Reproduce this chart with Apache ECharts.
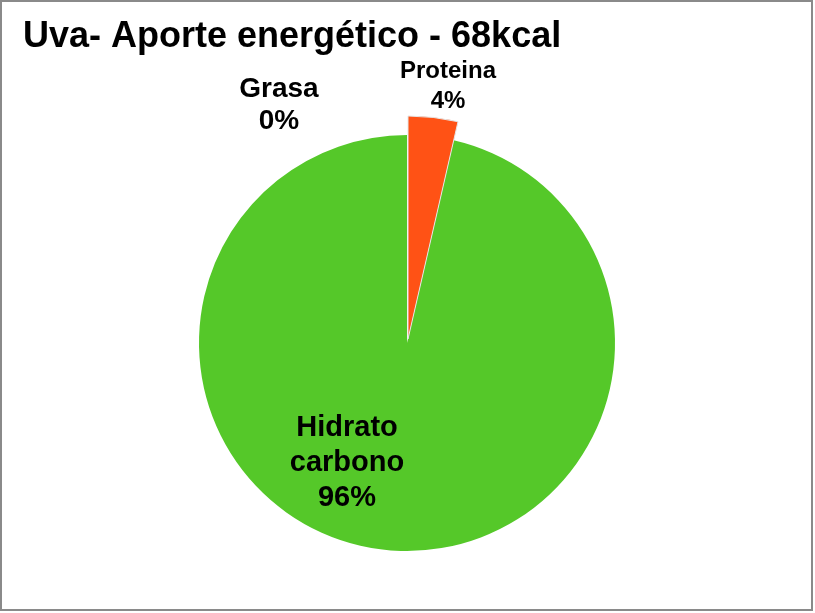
<!DOCTYPE html>
<html>
<head>
<meta charset="utf-8">
<script src="https://cdn.jsdelivr.net/npm/echarts@6/dist/echarts.min.js"></script>
<style>
html,body{margin:0;padding:0;background:#fff;}
#chart{width:815px;height:613px;}
</style>
</head>
<body>
<div id="chart"></div>
<script>
// ---- data ----
const titleText = 'Uva- Aporte energético - 68kcal';
const categories = ['Proteina', 'Hidrato\ncarbono', 'Grasa'];
const values = [3.6, 96.4, 0];
const colors = ['#FF5215', '#55C829', '#9BBB59'];

// ---- layout (positions only) ----
const labelPos = {
  'Proteina': {x: 448, y: 86, size: 24, lh: 30},
  'Hidrato\ncarbono': {x: 347, y: 463, size: 29, lh: 35},
  'Grasa': {x: 279, y: 105, size: 28, lh: 32}
};

const chart = echarts.init(document.getElementById('chart'), null, {renderer: 'canvas'});

function fmt(p) { return p.name + '\n' + Math.round(p.percent) + '%'; }

function makeData(visibleIdx) {
  return categories.map((c, i) => ({
    name: c,
    value: values[i],
    itemStyle: {
      color: colors[i],
      opacity: visibleIdx.includes(i) ? 1 : 0
    },
    label: {
      show: visibleIdx.includes(i),
      fontSize: labelPos[c].size,
      lineHeight: labelPos[c].lh
    }
  }));
}

function layoutFn(params) {
  const p = labelPos[categories[params.dataIndex]];
  return {x: p.x, y: p.y, align: 'center', verticalAlign: 'middle'};
}

const labelBase = {
  position: 'inside',
  formatter: fmt,
  color: '#000',
  fontWeight: 'bold',
  fontFamily: 'Liberation Sans, Arial, sans-serif',
  align: 'center'
};

chart.setOption({
  animation: false,
  backgroundColor: '#fff',
  title: {
    text: titleText,
    left: 23,
    top: 19,
    padding: 0,
    textStyle: {
      fontFamily: 'Liberation Sans, Arial, sans-serif',
      fontWeight: 'bold',
      fontSize: 36,
      color: '#000'
    }
  },
  graphic: [{
    type: 'rect',
    shape: {x: 1, y: 1, width: 811, height: 609},
    style: {fill: 'none', stroke: '#8a8a8a', lineWidth: 2},
    silent: true
  }],
  series: [
    {
      type: 'pie',
      center: [407, 343],
      radius: [0, 208],
      startAngle: 90,
      clockwise: true,
      avoidLabelOverlap: false,
      labelLine: {show: false},
      label: labelBase,
      labelLayout: layoutFn,
      emphasis: {disabled: true},
      silent: true,
      data: makeData([1, 2])
    },
    {
      type: 'pie',
      center: [408, 339],
      radius: [0, 223],
      startAngle: 90,
      clockwise: true,
      avoidLabelOverlap: false,
      labelLine: {show: false},
      label: labelBase,
      labelLayout: layoutFn,
      emphasis: {disabled: true},
      silent: true,
      data: makeData([0]).map((d, i) => i === 0 ? Object.assign(d, {itemStyle: Object.assign(d.itemStyle, {borderColor: '#e6e6e6', borderWidth: 1})}) : d)
    }
  ]
});
</script>
</body>
</html>
